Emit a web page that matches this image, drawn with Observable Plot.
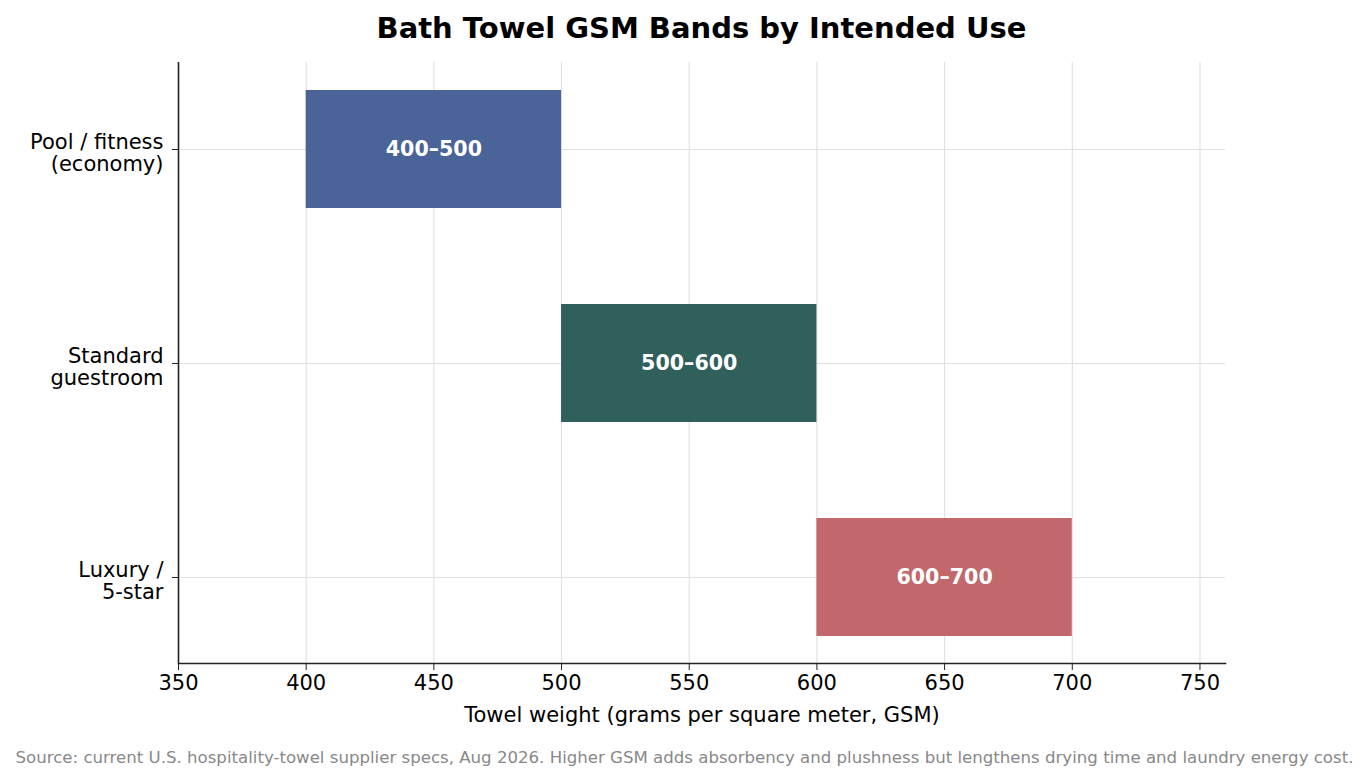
<!DOCTYPE html>
<html>
<head>
<meta charset="utf-8">
<script src="https://cdn.jsdelivr.net/npm/d3@7"></script>
<script src="https://cdn.jsdelivr.net/npm/@observablehq/plot@0.6"></script>
<style>
  html, body { margin: 0; padding: 0; background: #fff; }
  body { width: 1369px; height: 783px; overflow: hidden; font-family: "DejaVu Sans", sans-serif; }
  #title { position: absolute; left: 178px; width: 1047px; top: 9px; text-align: center; font-weight: bold; font-size: 29px; line-height: 38px; color: #000; }
  #chart { position: absolute; left: 0; top: 49px; }
  #source { position: absolute; left: 0; width: 1369px; top: 747px; text-align: center; font-size: 16.6px; line-height: 22px; color: #888; }
</style>
</head>
<body>
<div id="title">Bath Towel GSM Bands by Intended Use</div>
<div id="chart"></div>
<div id="source">Source: current U.S. hospitality-towel supplier specs, Aug 2026. Higher GSM adds absorbency and plushness but lengthens drying time and laundry energy cost.</div>
<script>
const categories = ["Pool / fitness\n(economy)", "Standard\nguestroom", "Luxury /\n5-star"];
const lowGSM = [400, 500, 600];
const highGSM = [500, 600, 700];
const bandLabels = ["400–500", "500–600", "600–700"];
const barColors = ["#4a6399", "#2f605c", "#c2676b"];
const xTicks = [350, 400, 450, 500, 550, 600, 650, 700, 750];

const data = categories.map((c, i) => ({
  use: c, low: lowGSM[i], high: highGSM[i], label: bandLabels[i], color: barColors[i]
}));

const plot = Plot.plot({
  width: 1369,
  height: 681,
  marginTop: 13,
  marginBottom: 67,
  marginLeft: 178,
  marginRight: 144,
  style: { fontFamily: "DejaVu Sans, sans-serif", fontSize: "21px", color: "#000", background: "white" },
  x: { domain: [350, 760], ticks: xTicks, label: null },
  y: { domain: categories, paddingInner: 0.45, paddingOuter: 0.126, label: null },
  marks: [
    Plot.gridX(xTicks, { stroke: "#e0e0e0", strokeOpacity: 1, strokeWidth: 1.1 }),
    Plot.gridY(categories, { stroke: "#e0e0e0", strokeOpacity: 1, strokeWidth: 1.1 }),
    Plot.barX(data, { x1: "low", x2: "high", y: "use", fill: "color" }),
    Plot.text(data, { x: d => (d.low + d.high) / 2, y: "use", text: "label", fill: "white", fontWeight: "bold", fontSize: 20.6 }),
    Plot.ruleX([350], { stroke: "#222", strokeWidth: 1.6 }),
    Plot.frame({ anchor: "bottom", stroke: "#222", strokeWidth: 1.6 }),
    Plot.axisX({ ticks: xTicks, tickSize: 7, tickPadding: 5, fontSize: 21, stroke: "#222", label: "Towel weight (grams per square meter, GSM)", labelAnchor: "center", labelArrow: "none", labelOffset: 58 }),
    Plot.axisY({ tickSize: 6, text: null, stroke: "#222", label: null }),
    Plot.axisY({ tickSize: 0, tickPadding: 15, fontSize: 21, lineHeight: 1.06, dy: 3, label: null })
  ]
});
document.getElementById("chart").appendChild(plot);
</script>
</body>
</html>
